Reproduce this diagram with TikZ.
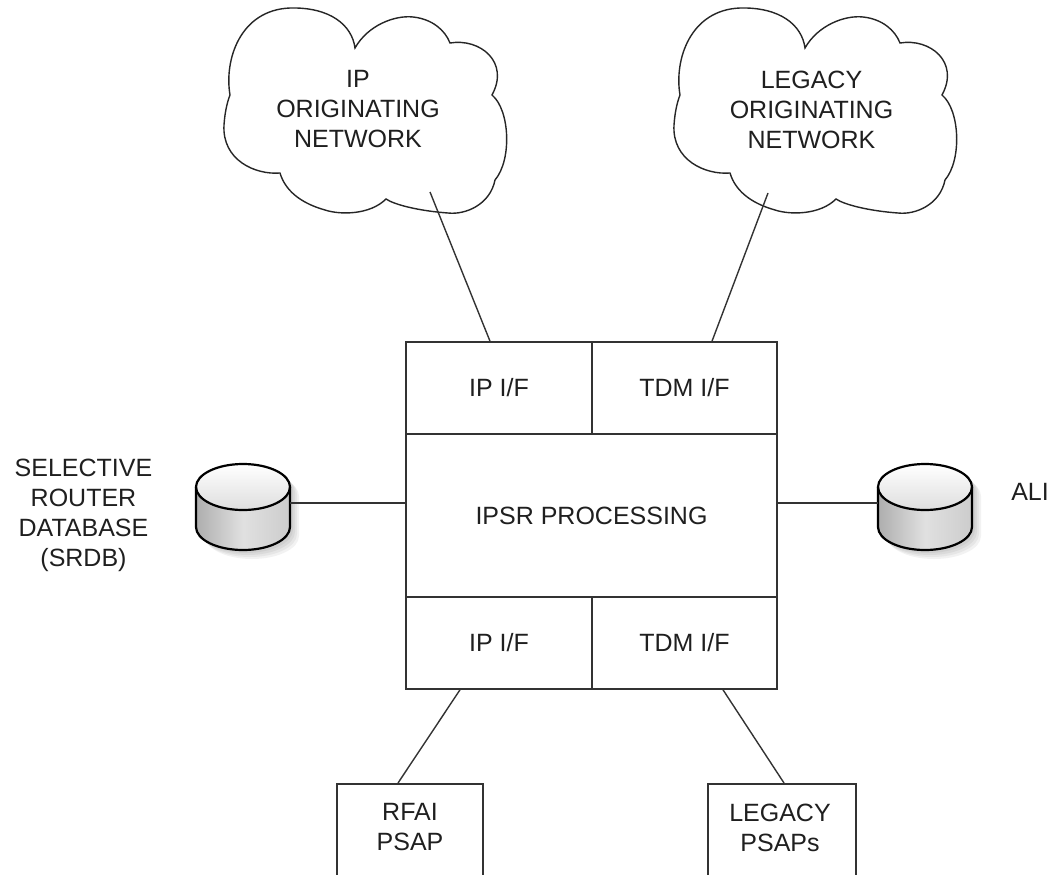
\documentclass[tikz,border=0pt]{standalone}
\usepackage{fontspec}
\setmainfont{Liberation Sans}
\begin{document}
\begin{tikzpicture}[x=1pt,y=-1pt,
  every node/.style={font=\fontsize{25}{30}\selectfont, text=black!88},
  wire/.style={draw=black!80, line width=1.4pt},
  cell/.style={draw=black!80, line width=1.6pt, inner sep=0pt, align=center},
  caption/.style={inner sep=0pt, align=center},
  hidden/.style={inner sep=0pt, minimum width=94pt, minimum height=86pt},
  cloudline/.style={draw=black!85, fill=white, line width=1.4pt},
  netcloud/.pic={
    \path[cloudline]
      (230,95) .. controls (224,60) and (240,10) .. (290,8)
      .. controls (330,7) and (352,25) .. (355,48)
      .. controls (368,25) and (395,15) .. (413,17)
      .. controls (432,19) and (445,30) .. (450,43)
      .. controls (480,38) and (510,62) .. (492,95)
      .. controls (510,110) and (512,160) .. (495,180)
      .. controls (490,205) and (465,215) .. (448,213)
      .. controls (420,211) and (395,205) .. (386,199)
      .. controls (370,215) and (340,215) .. (325,210)
      .. controls (300,203) and (285,190) .. (280,173)
      .. controls (255,175) and (222,160) .. (224,125)
      .. controls (225,110) and (228,100) .. (230,95) -- cycle;
  },
  dbcyl/.pic={
    % soft shadow below and to the right
    \foreach \d in {3,5,7,9}{
      \fill[black, opacity=0.05, shift={(\d,\d)}]
        (-47,-20) -- (-47,20) arc[start angle=180, end angle=360, x radius=47pt, y radius=23pt]
        -- (47,-20) arc[start angle=0, end angle=180, x radius=47pt, y radius=23pt] -- cycle;
    }
    % body
    \path[left color=black!32, right color=black!20, middle color=black!12]
      (-47,-20) -- (-47,20) arc[start angle=180, end angle=360, x radius=47pt, y radius=23pt]
      -- (47,-20) arc[start angle=0, end angle=180, x radius=47pt, y radius=23pt] -- cycle;
    % top face
    \path[top color=white, bottom color=black!13] (0,-20) ellipse [x radius=47pt, y radius=23pt];
    % outline
    \draw[black, line width=2.2pt]
      (-47,-20) -- (-47,20) arc[start angle=180, end angle=360, x radius=47pt, y radius=23pt]
      -- (47,-20);
    \draw[black, line width=2.2pt] (0,-20) ellipse [x radius=47pt, y radius=23pt];
  }]
\useasboundingbox (0,0) rectangle (1057,875);
\clip (0,0) rectangle (1057,875);

% originating networks
\pic at (0,0) {netcloud};
\pic at (450,0) {netcloud};
\node[caption] (ipnet) at (358,109.5) {IP\\ORIGINATING\\NETWORK};
\node[caption] (legnet) at (811.5,109.5) {LEGACY\\ORIGINATING\\NETWORK};
\coordinate (ipnetend) at (430,192);
\coordinate (legnetend) at (768,193);

% IPSR block
\node[cell, minimum width=186pt, minimum height=92pt] (iptop) at (499,388) {IP I/F};
\node[cell, minimum width=185pt, minimum height=92pt] (tdmtop) at (684.5,388) {TDM I/F};
\node[cell, minimum width=371pt, minimum height=163pt] (proc) at (591.5,515.5) {IPSR PROCESSING};
\node[cell, minimum width=186pt, minimum height=92pt] (ipbot) at (499,643) {IP I/F};
\node[cell, minimum width=185pt, minimum height=92pt] (tdmbot) at (684.5,643) {TDM I/F};

% databases
\node[hidden] (srdb) at (243,507) {};
\pic at (243,507) {dbcyl};
\node[hidden] (ali) at (925,507) {};
\pic at (925,507) {dbcyl};
\node[caption] (srdblbl) at (83.5,515.5) {SELECTIVE\\ROUTER\\DATABASE\\(SRDB)};
\node[caption] (alilbl) at (1030,492) {ALI};

% PSAPs
\node[cell, anchor=north, minimum width=146pt, minimum height=110pt] (rfai) at (410,783) {};
\node[caption] (rfailbl) at (410,827.5) {RFAI\\PSAP};
\node[cell, anchor=north, minimum width=148pt, minimum height=110pt] (legpsap) at (782,783) {};
\node[caption] (legpsaplbl) at (780,827.5) {LEGACY\\PSAPs};

% connectors
\draw[wire] (ipnetend) -- ([xshift=-9pt]iptop.north);
\draw[wire] (legnetend) -- ([xshift=27.5pt]tdmtop.north);
\draw[wire] ([yshift=4pt]srdb.east) -- ([yshift=12.5pt]proc.west);
\draw[wire] ([yshift=12.5pt]proc.east) -- ([yshift=4pt]ali.west);
\draw[wire] ([xshift=-39pt]ipbot.south) -- ([xshift=-12pt]rfai.north);
\draw[wire] ([xshift=38.5pt]tdmbot.south) -- ([xshift=2pt]legpsap.north);
\end{tikzpicture}
\end{document}
